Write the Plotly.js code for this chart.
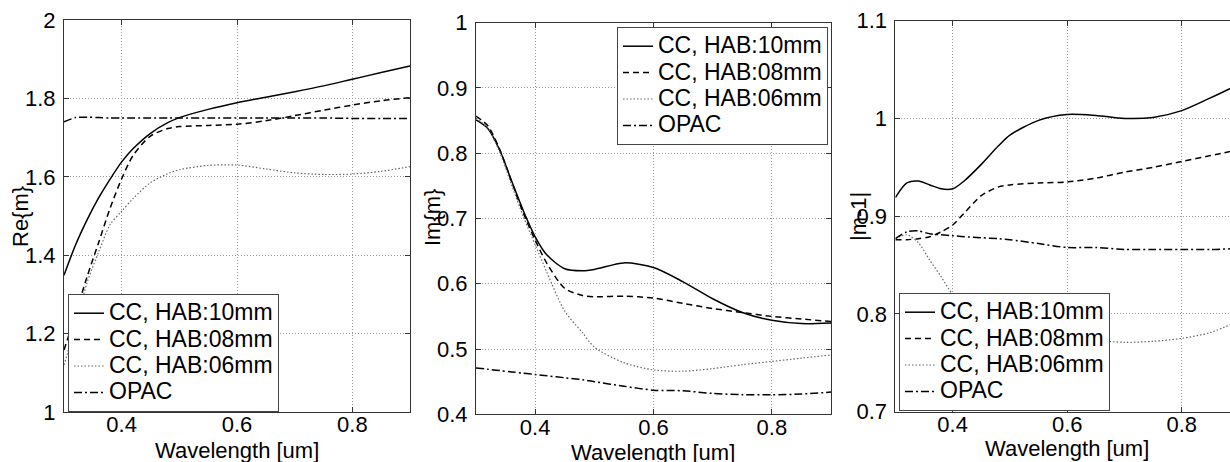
<!DOCTYPE html>
<html>
<head>
<meta charset="utf-8">
<script src="https://cdn.plot.ly/plotly-3.0.1.min.js"></script>
<style>
html,body{margin:0;padding:0;background:#fff;overflow:hidden;width:1230px;height:462px;}
#chart{width:1240px;height:462px;}
</style>
</head>
<body>
<div id="chart"></div>
<script>
// ---- data ----
var wavelength = [0.30,0.32,0.34,0.36,0.38,0.40,0.42,0.45,0.48,0.50,0.55,0.60,0.65,0.70,0.75,0.80,0.85,0.90];

var seriesNames = ['CC, HAB:10mm','CC, HAB:08mm','CC, HAB:06mm','OPAC'];

// Re{m}
var re_10mm = [1.349,1.426,1.490,1.546,1.594,1.638,1.672,1.711,1.738,1.751,1.772,1.789,1.803,1.817,1.832,1.849,1.866,1.883];
var re_08mm = [1.158,1.250,1.345,1.432,1.520,1.595,1.655,1.704,1.723,1.728,1.731,1.734,1.743,1.756,1.770,1.783,1.794,1.802];
var re_06mm = [1.120,1.220,1.330,1.408,1.478,1.512,1.545,1.585,1.608,1.618,1.629,1.630,1.620,1.610,1.606,1.607,1.614,1.626];
var re_opac = [1.740,1.751,1.752,1.751,1.750,1.750,1.750,1.750,1.750,1.750,1.750,1.750,1.750,1.750,1.750,1.749,1.749,1.749];

// Im{m}
var im_10mm = [0.851,0.838,0.805,0.758,0.712,0.672,0.644,0.623,0.620,0.622,0.632,0.625,0.603,0.577,0.556,0.544,0.539,0.540];
var im_08mm = [0.857,0.842,0.806,0.757,0.708,0.667,0.631,0.593,0.582,0.580,0.581,0.578,0.570,0.562,0.556,0.550,0.546,0.542];
var im_06mm = [0.854,0.838,0.802,0.752,0.703,0.660,0.617,0.558,0.525,0.503,0.479,0.468,0.466,0.470,0.476,0.481,0.486,0.491];
var im_opac = [0.471,0.469,0.467,0.465,0.463,0.461,0.459,0.456,0.453,0.450,0.443,0.437,0.436,0.432,0.430,0.430,0.431,0.434];

// |m-1|
var abs_10mm = [0.919,0.934,0.936,0.932,0.928,0.928,0.936,0.953,0.972,0.983,0.998,1.004,1.003,1.000,1.001,1.008,1.021,1.035];
var abs_08mm = [0.876,0.876,0.877,0.879,0.884,0.891,0.903,0.921,0.930,0.932,0.934,0.935,0.939,0.945,0.950,0.956,0.962,0.968];
var abs_06mm = [0.877,0.881,0.873,0.855,0.838,0.820,0.810,0.800,0.791,0.787,0.780,0.776,0.773,0.771,0.772,0.775,0.781,0.793];
var abs_opac = [0.877,0.884,0.885,0.882,0.881,0.880,0.879,0.878,0.877,0.876,0.872,0.868,0.868,0.866,0.866,0.866,0.866,0.867];

// ticks
var xTickVals = [0.4,0.6,0.8];
var xTickText = ['0.4','0.6','0.8'];
var y1TickVals = [1,1.2,1.4,1.6,1.8,2];
var y1TickText = ['1','1.2','1.4','1.6','1.8','2'];
var y2TickVals = [0.4,0.5,0.6,0.7,0.8,0.9,1];
var y2TickText = ['0.4','0.5','0.6','0.7','0.8','0.9','1'];
var y3TickVals = [0.7,0.8,0.9,1,1.1];
var y3TickText = ['0.7','0.8','0.9','1','1.1'];

var xTitle = 'Wavelength [um]';
var yTitles = ['Re{m}','Im{m}','|m-1|'];

// ---- styles ----
var FONT = 'Liberation Sans, Arial, Helvetica, sans-serif';
var lineStyles = [
  {color:'#000', width:1.5, dash:'solid'},
  {color:'#000', width:1.5, dash:'6px,4px'},
  {color:'#666', width:1.2, dash:'1.5px,2px'},
  {color:'#000', width:1.5, dash:'8px,3px,2px,3px'}
];

function makeTraces(sets, xa, ya, leg){
  return sets.map(function(ys, i){
    return {
      x: wavelength, y: ys, type:'scatter', mode:'lines',
      name: '<span style="font-size:23px">' + seriesNames[i] + '</span>',
      xaxis: xa, yaxis: ya, legend: leg,
      line: Object.assign({shape:'spline', smoothing:0.8}, lineStyles[i]),
      hoverinfo:'skip'
    };
  });
}

var data = []
  .concat(makeTraces([re_10mm,re_08mm,re_06mm,re_opac],'x','y','legend'))
  .concat(makeTraces([im_10mm,im_08mm,im_06mm,im_opac],'x2','y2','legend2'))
  .concat(makeTraces([abs_10mm,abs_08mm,abs_06mm,abs_opac],'x3','y3','legend3'));

var W = 1240, H = 462;
function axBase(){
  return {
    showline:true, linecolor:'#333', linewidth:1, mirror:'ticks',
    ticks:'inside', ticklen:5, tickcolor:'#333', tickwidth:1,
    showgrid:true, gridcolor:'#999999', griddash:'1px,2px', gridwidth:1,
    zeroline:false, tickfont:{family:FONT, size:22, color:'#000'},
    tickmode:'array', fixedrange:true
  };
}
function xa(d0,d1,anchor){
  return Object.assign(axBase(), {domain:[d0/W, d1/W], range:[0.3,0.9], anchor:anchor,
    tickvals:xTickVals, ticktext:xTickText, ticklabelstandoff:-7});
}
function ya(top,bot,range,tv,tt,anchor){
  return Object.assign(axBase(), {domain:[(H-bot)/H,(H-top)/H], range:range, anchor:anchor,
    tickvals:tv, ticktext:tt, ticklabelstandoff:3});
}

function legendAt(x, y, xanchor){
  return {x:x/W, y:1-y/H, xref:'paper', yref:'paper', xanchor:xanchor, yanchor:'top',
    bgcolor:'#fff', bordercolor:'#444', borderwidth:1,
    font:{family:FONT, size:18, color:'#000'}, tracegroupgap:0, itemwidth:30};
}

var annFont = {family:FONT, size:22, color:'#000'};
var annotations = [
  {text:xTitle, x:237/W, y:1-450/H},
  {text:xTitle, x:653/W, y:1-452/H},
  {text:xTitle, x:1067/W, y:1-448/H},
  {text:yTitles[0], x:20/W, y:1-217/H, textangle:-90},
  {text:yTitles[1], x:432/W, y:1-218/H, textangle:-90},
  {text:yTitles[2], x:858/W, y:1-217/H, textangle:-90}
].map(function(a){
  return Object.assign({xref:'paper', yref:'paper', showarrow:false, xanchor:'center', yanchor:'middle', font:annFont}, a);
});

var layout = {
  width:W, height:H, margin:{l:0,r:0,t:0,b:0},
  paper_bgcolor:'#fff', plot_bgcolor:'#fff',
  font:{family:FONT, color:'#000'},
  xaxis: xa(64,410,'y'),
  xaxis2: xa(476,831,'y2'),
  xaxis3: xa(895.4,1239,'y3'),
  yaxis: ya(20,412,[1,2],y1TickVals,y1TickText,'x'),
  yaxis2: ya(22.7,414.3,[0.4,1],y2TickVals,y2TickText,'x2'),
  yaxis3: ya(20.7,411.7,[0.7,1.1],y3TickVals,y3TickText,'x3'),
  legend: legendAt(68,294,'left'),
  legend2: legendAt(828,27,'right'),
  legend3: legendAt(899,293,'left'),
  annotations: annotations,
  showlegend:true
};

Plotly.newPlot('chart', data, layout, {staticPlot:true, displayModeBar:false});
</script>
</body>
</html>
